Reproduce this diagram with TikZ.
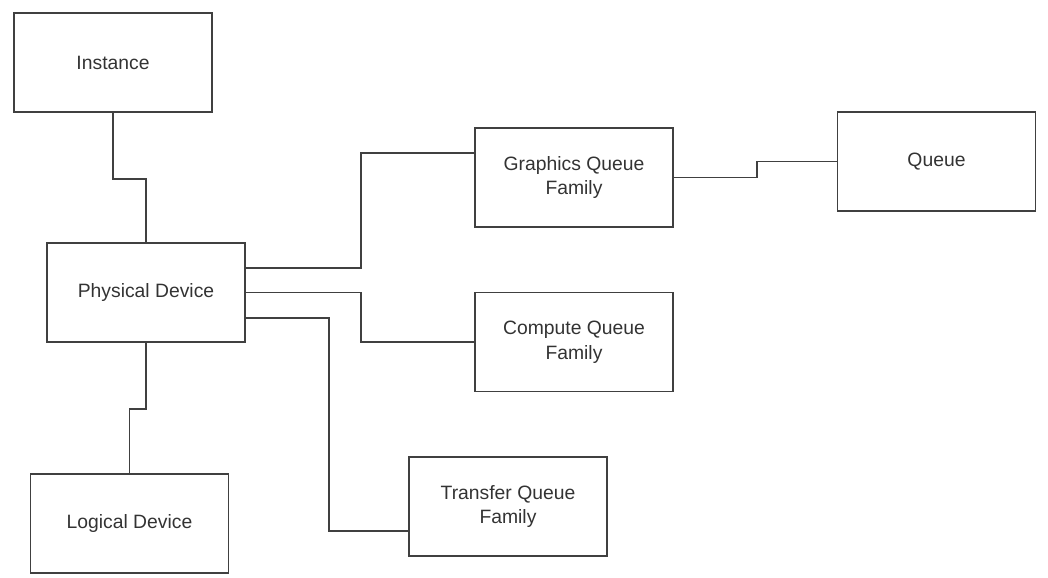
\documentclass[tikz,border=0pt]{standalone}
\usepackage{fontspec}
\setmainfont{Liberation Sans}
\usepackage{tikz}
\usetikzlibrary{calc,positioning}
\definecolor{linegray}{HTML}{404040}
\definecolor{textgray}{HTML}{333333}

\tikzset{
  objbox/.style={draw=linegray,line width=0.9pt,minimum width=3.96cm,
      minimum height=1.98cm,inner sep=0,align=center,text=textgray,
      font=\fontsize{11}{14}\selectfont},
  link/.style={draw=linegray,line width=0.9pt}
}

\begin{document}
\begin{tikzpicture}[x=0.02cm,y=-0.02cm]
                  \useasboundingbox (0,0) rectangle (1048,578);

                  % Objects
                  \node[objbox] (inst) at (113,62.5) {Instance};
                  \node[objbox] (phys) at (146,292.5) {Physical Device};
                  \node[objbox] (logic) at (129.5,523.5) {Logical Device};
                  \node[objbox] (gfx) at (574,177.5) {Graphics Queue\\Family};
                  \node[objbox] (comp) at (574,342) {Compute Queue\\Family};
                  \node[objbox] (xfer) at (508,506.5) {Transfer Queue\\Family};
                  \node[objbox] (queue) at (936.5,161.5) {Queue};

                  % Connections
                  \draw[link] (inst.south) -- ++(0,66) -| (phys.north);
                  \draw[link] (phys.south) -- ++(0,66) -| (logic.north);
                  \draw[link] ($(phys.east)+(0,-24.5)$) -- ++(115,0)
                  |- ($(gfx.west)+(0,-24.5)$);
                  \draw[link] (phys.east) -- ++(115,0) |- (comp.west);
                  \draw[link] ($(phys.east)+(0,25.5)$) -- ++(83,0)
                  |- ($(xfer.west)+(0,24.5)$);
                  \draw[link] (gfx.east) -- ++(83,0) |- (queue.west);
              \end{tikzpicture}
\end{document}
